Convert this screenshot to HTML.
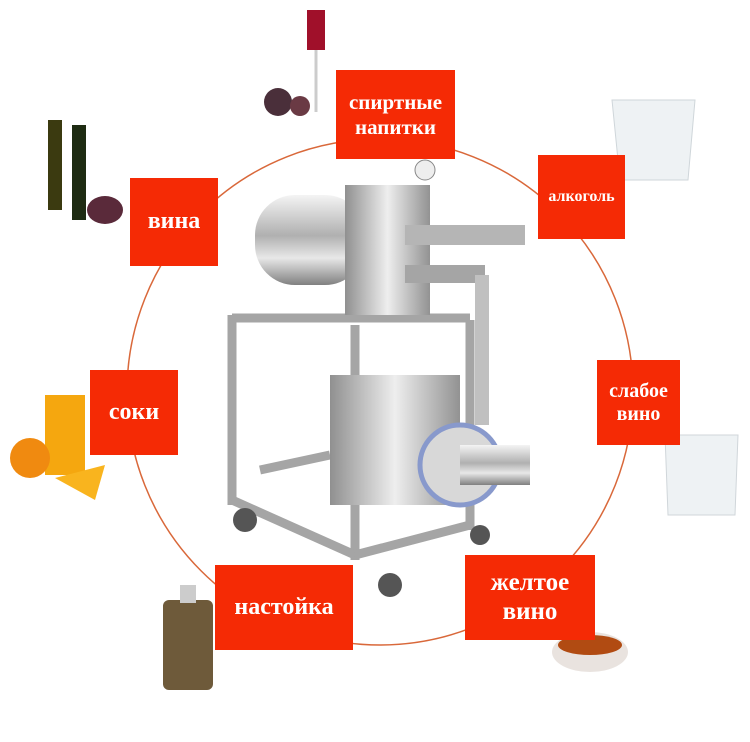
<!DOCTYPE html>
<html><head><meta charset="utf-8">
<style>
html,body{margin:0;padding:0;background:#fff;}
#c{position:relative;width:750px;height:742px;overflow:hidden;background:#fff;font-family:"Liberation Serif",serif;}
.b{position:absolute;background:#f52a05;color:#fff;display:flex;align-items:center;justify-content:center;text-align:center;line-height:1.15;font-weight:bold;}
</style></head><body><div id="c">
<svg width="750" height="742" style="position:absolute;left:0;top:0">
<defs>
<linearGradient id="st" x1="0" y1="0" x2="0" y2="1"><stop offset="0" stop-color="#f4f4f4"/><stop offset=".45" stop-color="#b0b0b0"/><stop offset=".7" stop-color="#e8e8e8"/><stop offset="1" stop-color="#808080"/></linearGradient>
<linearGradient id="sh" x1="0" y1="0" x2="1" y2="0"><stop offset="0" stop-color="#909090"/><stop offset=".5" stop-color="#eee"/><stop offset="1" stop-color="#929292"/></linearGradient>
</defs>
<circle cx="380" cy="392" r="253" fill="none" stroke="#d9683a" stroke-width="1.5"/>
<g stroke="#a5a5a5" stroke-width="9" fill="none">
<line x1="232" y1="315" x2="232" y2="505"/><line x1="355" y1="325" x2="355" y2="560"/>
<line x1="470" y1="320" x2="470" y2="530"/><line x1="232" y1="318" x2="470" y2="318"/>
<line x1="232" y1="500" x2="355" y2="555"/><line x1="355" y1="555" x2="470" y2="525"/>
<line x1="260" y1="470" x2="330" y2="455"/>
</g>
<rect x="255" y="195" width="110" height="90" rx="40" fill="url(#st)"/>
<rect x="345" y="185" width="85" height="130" fill="url(#sh)"/>
<rect x="405" y="225" width="120" height="20" fill="#b5b5b5"/>
<rect x="405" y="265" width="80" height="18" fill="#a5a5a5"/>
<rect x="475" y="275" width="14" height="150" fill="#c0c0c0"/>
<circle cx="425" cy="170" r="10" fill="#eee" stroke="#888"/>
<rect x="330" y="375" width="130" height="130" fill="url(#sh)"/>
<ellipse cx="460" cy="465" rx="40" ry="40" fill="#d8d8d8" stroke="#8899cc" stroke-width="5"/>
<rect x="460" y="445" width="70" height="40" fill="url(#st)"/>
<circle cx="245" cy="520" r="12" fill="#555"/><circle cx="390" cy="585" r="12" fill="#555"/><circle cx="480" cy="535" r="10" fill="#555"/>
<rect x="307" y="10" width="18" height="40" fill="#a0102a"/><line x1="316" y1="50" x2="316" y2="112" stroke="#ccc" stroke-width="3"/>
<circle cx="278" cy="102" r="14" fill="#4a2f3a"/><circle cx="300" cy="106" r="10" fill="#6a3a44"/>
<rect x="48" y="120" width="14" height="90" fill="#3b3a10"/><rect x="72" y="125" width="14" height="95" fill="#1e2b12"/>
<ellipse cx="105" cy="210" rx="18" ry="14" fill="#5a2a3a"/>
<path d="M612 100 L695 100 L688 180 L620 180 Z" fill="#eef2f4" stroke="#cfd6da"/>
<path d="M665 435 L738 435 L735 515 L668 515 Z" fill="#eef2f4" stroke="#d0d6da"/>
<rect x="45" y="395" width="40" height="80" fill="#f5a70f"/><circle cx="30" cy="458" r="20" fill="#f08a10"/><path d="M55 478 L105 465 L95 500 Z" fill="#f9b41e"/>
<rect x="163" y="600" width="50" height="90" rx="6" fill="#6e5a3a"/><rect x="180" y="585" width="16" height="18" fill="#ccc"/>
<ellipse cx="590" cy="652" rx="38" ry="20" fill="#e9e3df"/><ellipse cx="590" cy="645" rx="32" ry="10" fill="#b14b12"/>
</svg>
<div class="b" style="left:336px;top:70px;width:119px;height:89px;font-size:21px">спиртные<br>напитки</div>
<div class="b" style="left:538px;top:155px;width:87px;height:84px;font-size:16px">алкоголь</div>
<div class="b" style="left:130px;top:178px;width:88px;height:88px;font-size:24px">вина</div>
<div class="b" style="left:90px;top:370px;width:88px;height:85px;font-size:24px">соки</div>
<div class="b" style="left:597px;top:360px;width:83px;height:85px;font-size:20px">слабое<br>вино</div>
<div class="b" style="left:215px;top:565px;width:138px;height:85px;font-size:24px">настойка</div>
<div class="b" style="left:465px;top:555px;width:130px;height:85px;font-size:25px">желтое<br>вино</div>
</div></body></html>
